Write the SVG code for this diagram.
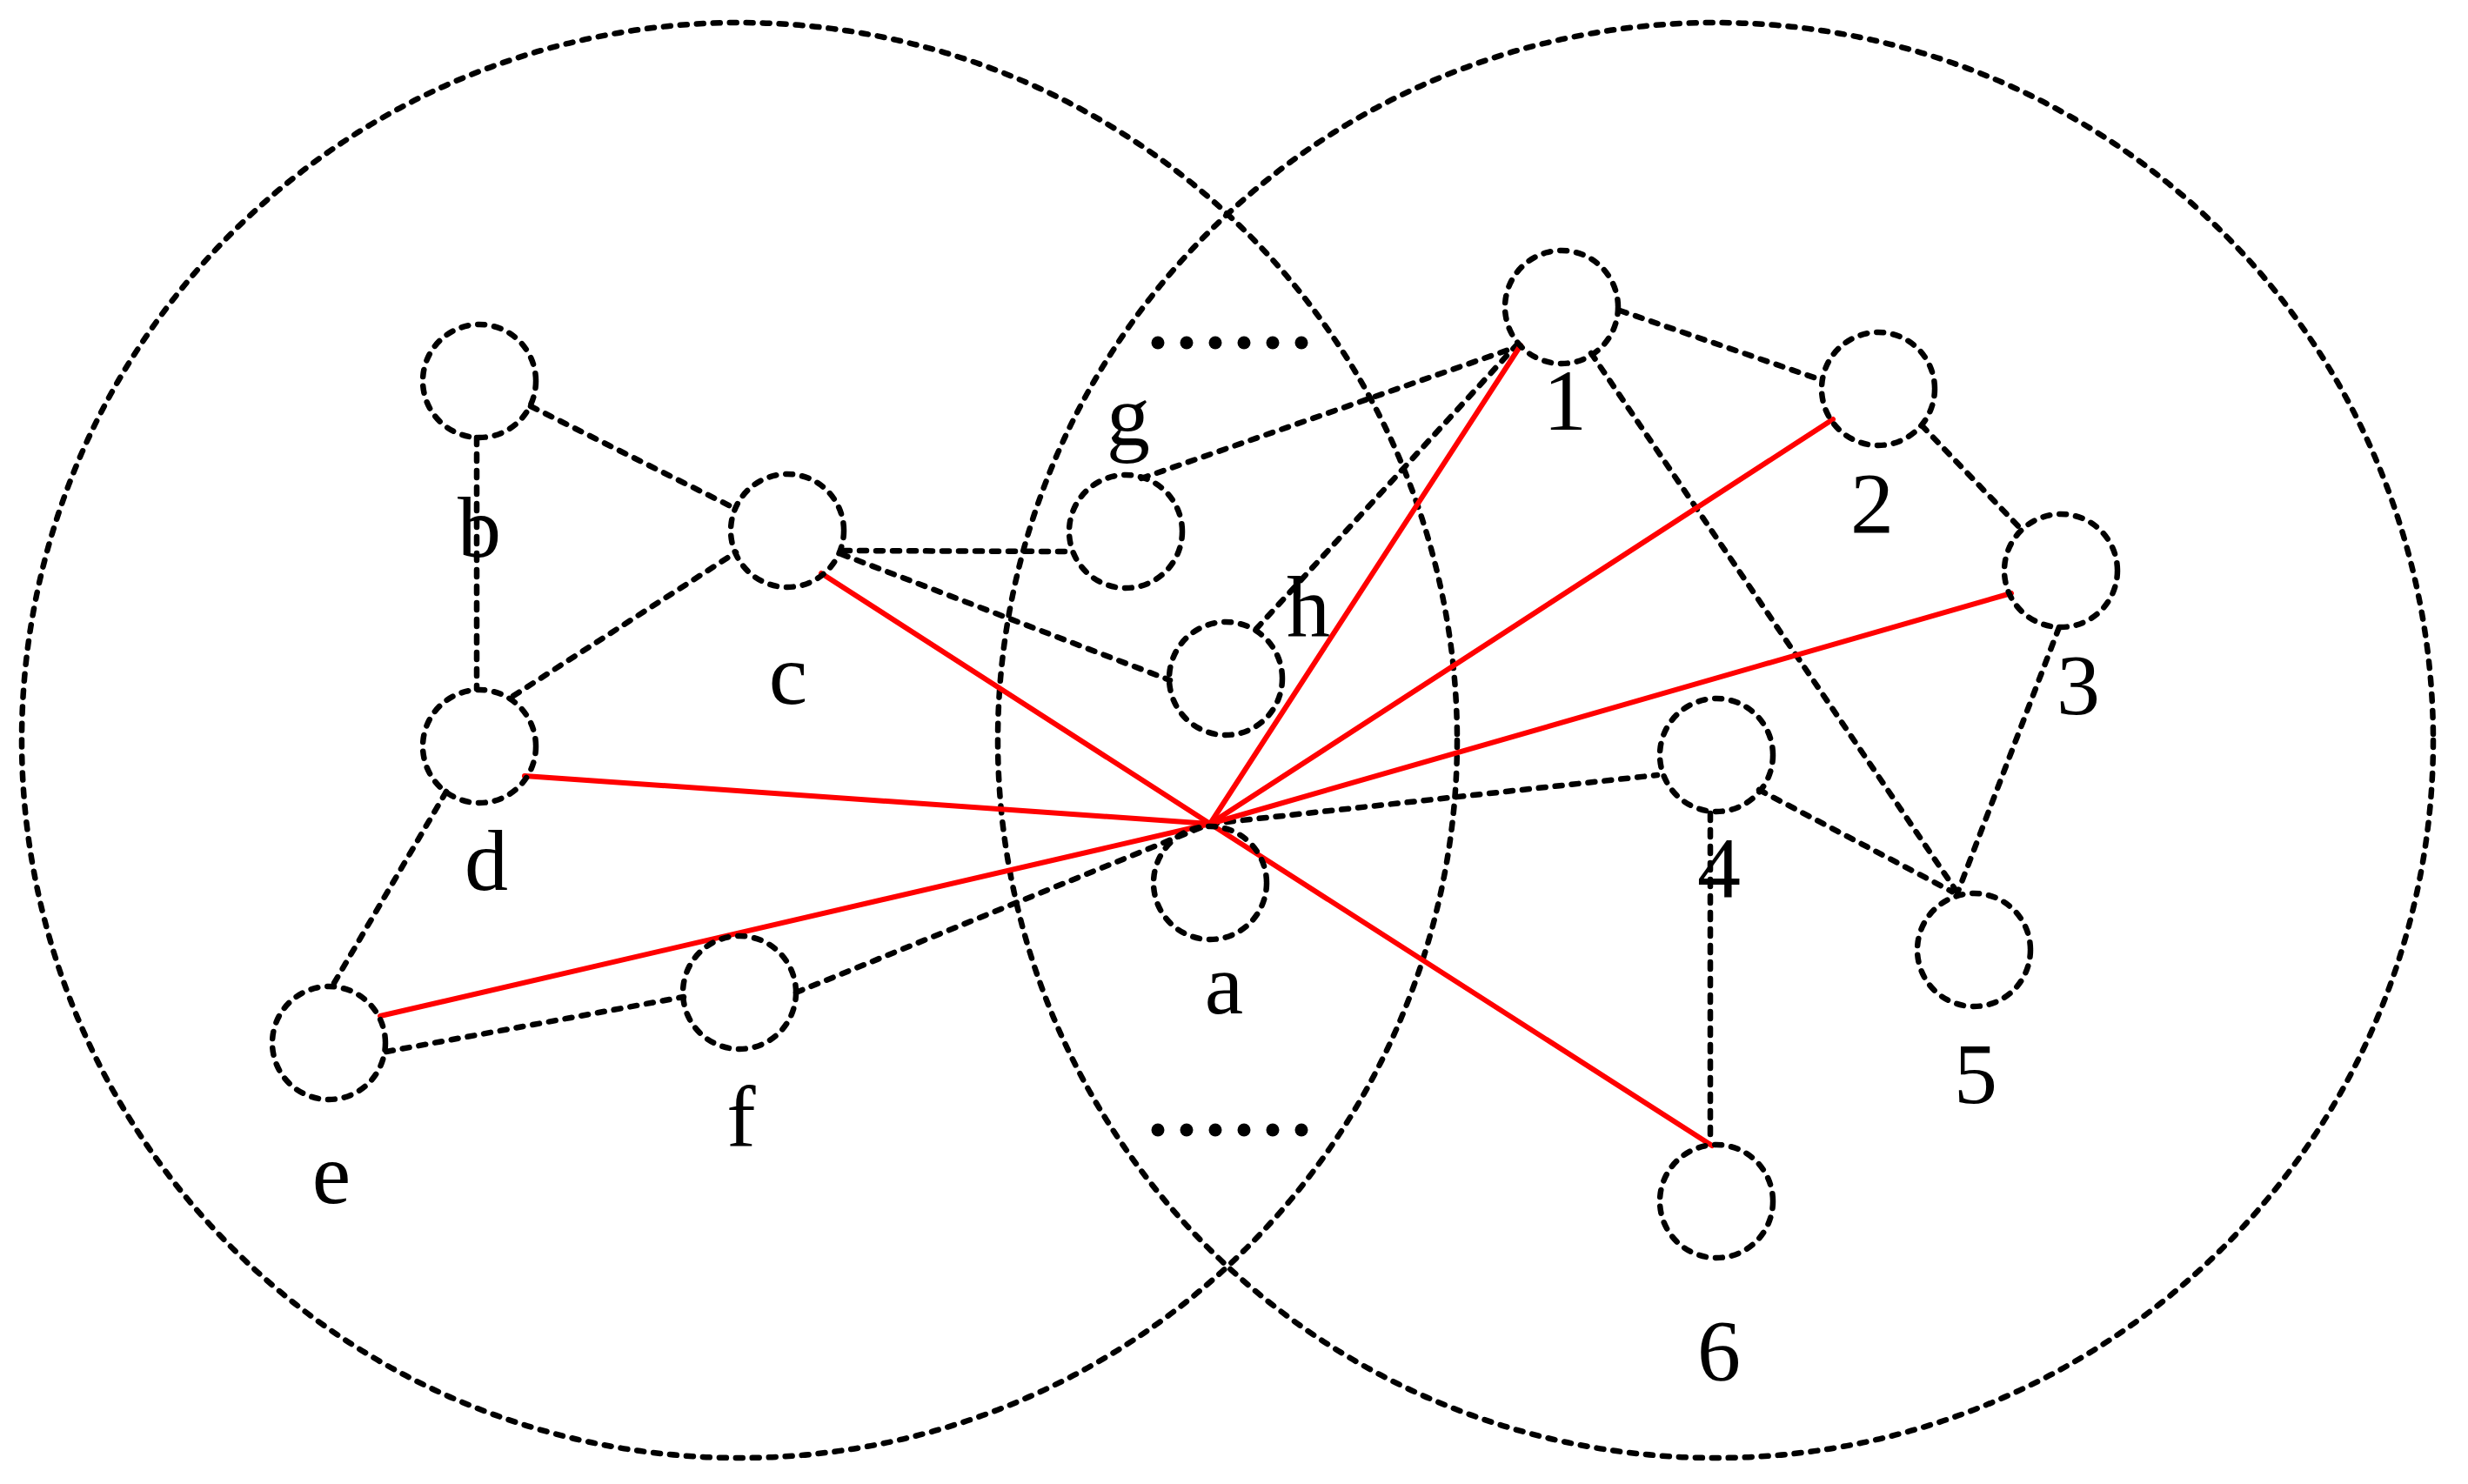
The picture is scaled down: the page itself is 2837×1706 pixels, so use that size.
<svg xmlns="http://www.w3.org/2000/svg" width="2837" height="1706" viewBox="0 0 2837 1706">
<style>
.dash{fill:none;stroke:#000;stroke-width:6.5;stroke-dasharray:8 11;stroke-linecap:round}
.red{fill:none;stroke:#ff0000;stroke-width:6;stroke-linecap:round}
.lbl{font-family:"Liberation Serif","Times New Roman",serif;font-size:100px;fill:#000;text-anchor:middle}
.dot{fill:#000}
</style>
<rect width="2837" height="1706" fill="#fff"/>
<g id="regions">
<circle class="dash" cx="850" cy="851" r="825"/>
<circle class="dash" cx="1972" cy="851" r="825"/>
</g>
<g id="connectors">
<line class="dash" x1="610" y1="467" x2="842" y2="583"/>
<line class="dash" x1="548" y1="503" x2="548" y2="792"/>
<line class="dash" x1="590" y1="800" x2="846" y2="635"/>
<line class="dash" x1="513" y1="910" x2="380" y2="1137"/>
<line class="dash" x1="444" y1="1209" x2="786" y2="1146"/>
<line class="dash" x1="915" y1="1141" x2="1391" y2="947"/>
<line class="dash" x1="969" y1="633" x2="1229" y2="634"/>
<line class="dash" x1="967" y1="637" x2="1345" y2="782"/>
<line class="dash" x1="1312" y1="550" x2="1743" y2="399"/>
<line class="dash" x1="1444" y1="723" x2="1743" y2="397"/>
<line class="dash" x1="1391" y1="947" x2="1905" y2="891"/>
<line class="dash" x1="1862" y1="357" x2="2094" y2="437"/>
<line class="dash" x1="1829" y1="406" x2="2252" y2="1029"/>
<line class="dash" x1="2209" y1="489" x2="2322" y2="607"/>
<line class="dash" x1="2367" y1="721" x2="2250" y2="1027"/>
<line class="dash" x1="2022" y1="908" x2="2244" y2="1025"/>
<line class="dash" x1="1966" y1="935" x2="1966" y2="1315"/>
<line class="red" x1="1391" y1="947" x2="944" y2="659"/>
<line class="red" x1="1391" y1="947" x2="603" y2="892"/>
<line class="red" x1="1391" y1="947" x2="437" y2="1168"/>
<line class="red" x1="1391" y1="947" x2="1748" y2="397"/>
<line class="red" x1="1391" y1="947" x2="2107" y2="482"/>
<line class="red" x1="1391" y1="947" x2="2312" y2="682"/>
<line class="red" x1="1391" y1="947" x2="1968" y2="1317"/>
</g>
<g id="ellipsis-top">
<circle class="dot" cx="1331" cy="394" r="7.5"/><circle class="dot" cx="1364" cy="394" r="7.5"/><circle class="dot" cx="1397" cy="394" r="7.5"/><circle class="dot" cx="1430" cy="394" r="7.5"/><circle class="dot" cx="1463" cy="394" r="7.5"/><circle class="dot" cx="1496" cy="394" r="7.5"/>
</g>
<g id="ellipsis-bottom">
<circle class="dot" cx="1331" cy="1299" r="7.5"/><circle class="dot" cx="1364" cy="1299" r="7.5"/><circle class="dot" cx="1397" cy="1299" r="7.5"/><circle class="dot" cx="1430" cy="1299" r="7.5"/><circle class="dot" cx="1463" cy="1299" r="7.5"/><circle class="dot" cx="1496" cy="1299" r="7.5"/>
</g>
<g id="node-b"><circle class="dash" cx="551" cy="438" r="65"/><text class="lbl" x="551" y="640">b</text></g>
<g id="node-c"><circle class="dash" cx="905" cy="610" r="65"/><text class="lbl" x="906" y="809">c</text></g>
<g id="node-d"><circle class="dash" cx="551" cy="858" r="65"/><text class="lbl" x="559" y="1023">d</text></g>
<g id="node-e"><circle class="dash" cx="378" cy="1199" r="65"/><text class="lbl" x="381" y="1383">e</text></g>
<g id="node-f"><circle class="dash" cx="850" cy="1141" r="65"/><text class="lbl" x="852" y="1318">f</text></g>
<g id="node-g"><circle class="dash" cx="1294" cy="611" r="65"/><text class="lbl" x="1297" y="512">g</text></g>
<g id="node-h"><circle class="dash" cx="1409" cy="780" r="65"/><text class="lbl" x="1504" y="731">h</text></g>
<g id="node-a"><circle class="dash" cx="1391" cy="1015" r="65"/><text class="lbl" x="1407" y="1165">a</text></g>
<g id="node-1"><circle class="dash" cx="1795" cy="353" r="65"/><text class="lbl" x="1799" y="494">1</text></g>
<g id="node-2"><circle class="dash" cx="2159" cy="447" r="65"/><text class="lbl" x="2152" y="612">2</text></g>
<g id="node-3"><circle class="dash" cx="2369" cy="656" r="65"/><text class="lbl" x="2389" y="821">3</text></g>
<g id="node-4"><circle class="dash" cx="1973" cy="868" r="65"/><text class="lbl" x="1976" y="1031">4</text></g>
<g id="node-5"><circle class="dash" cx="2269" cy="1092" r="65"/><text class="lbl" x="2271" y="1268">5</text></g>
<g id="node-6"><circle class="dash" cx="1973" cy="1381" r="65"/><text class="lbl" x="1976" y="1586">6</text></g>
</svg>
